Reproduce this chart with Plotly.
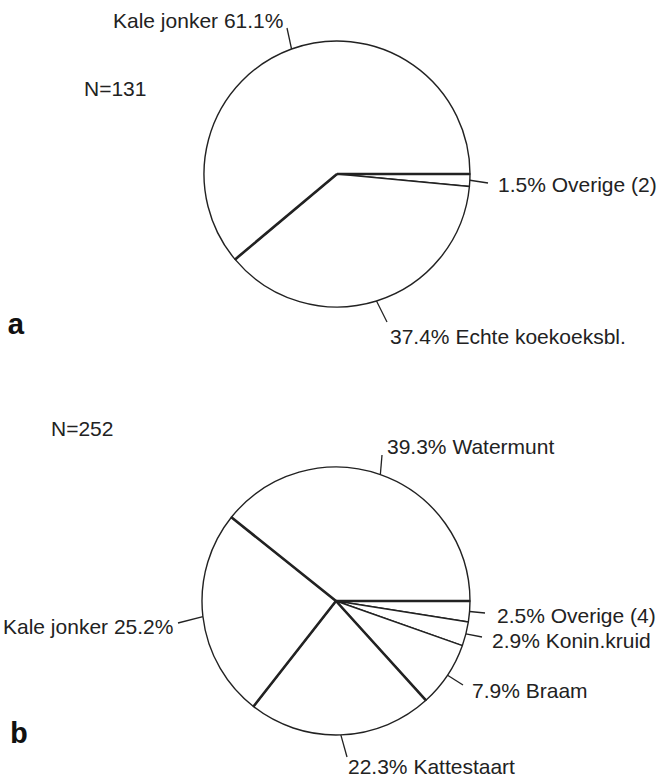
import math
import plotly.graph_objects as go

W, H = 659, 778

# ---------------- data ----------------
cats_a = ["Overige (2)", "Echte koekoeksbl.", "Kale jonker"]
vals_a = [1.5, 37.4, 61.1]
n_a = 131

cats_b = ["Overige (4)", "Konin.kruid", "Braam", "Kattestaart", "Kale jonker", "Watermunt"]
vals_b = [2.5, 2.9, 7.9, 22.3, 25.2, 39.3]
n_b = 252

panel_letters = ["a", "b"]

# ---------------- layout (pixels) ----------------
PIE_A = dict(cx=337, cy=174, r=133)
PIE_B = dict(cx=336, cy=601, r=134)

# leader end point, text anchor, horizontal anchor, name before value?
LAB_A = {
    "Overige (2)": dict(end=(488, 183), txt=(496, 184), xa="left", name_first=False),
    "Echte koekoeksbl.": dict(end=(387, 322), txt=(388, 336), xa="left", name_first=False),
    "Kale jonker": dict(end=(287, 28), txt=(285, 20), xa="right", name_first=True),
}
LAB_B = {
    "Overige (4)": dict(end=(485, 613), txt=(495, 615), xa="left", name_first=False),
    "Konin.kruid": dict(end=(482, 637), txt=(490, 640), xa="left", name_first=False),
    "Braam": dict(end=(463, 685), txt=(470, 690), xa="left", name_first=False),
    "Kattestaart": dict(end=(347, 757), txt=(346, 766), xa="left", name_first=False),
    "Kale jonker": dict(end=(178, 623), txt=(175, 626), xa="right", name_first=True),
    "Watermunt": dict(end=(382, 455), txt=(385, 446), xa="left", name_first=False),
}
EMPH_A = [0, 2]        # boundaries drawn heavier
EMPH_B = [0, 3, 4, 5]

N_POS = {"a": (82, 89), "b": (49, 429)}
LETTER_POS = {"a": (5, 326), "b": (8, 735)}

INK = "#222222"
FONT = "Liberation Sans"
FSIZE = 21


def px(x):
    return x / W


def py(y):
    return 1 - y / H


fig = go.Figure()
shapes = []
annotations = []


def add_pie(cats, vals, geo, labs, emph):
    cx, cy, r = geo["cx"], geo["cy"], geo["r"]
    fig.add_trace(go.Pie(
        labels=cats, values=vals, sort=False, direction="clockwise", rotation=90,
        textinfo="none", hoverinfo="label+value", showlegend=False,
        marker=dict(colors=["white"] * len(vals), line=dict(color=INK, width=1.4)),
        domain=dict(x=[px(cx - r), px(cx + r)], y=[py(cy + r), py(cy - r)]),
    ))
    total = sum(vals)
    cum = 0.0
    bounds = [0.0]
    for c, v in zip(cats, vals):
        mid = -(cum + v / 2) / total * 2 * math.pi
        ex, ey = cx + r * math.cos(mid), cy - r * math.sin(mid)
        lab = labs[c]
        lx, ly = lab["end"]
        shapes.append(dict(type="line", xref="paper", yref="paper",
                           x0=px(ex), y0=py(ey), x1=px(lx), y1=py(ly),
                           line=dict(color=INK, width=1.3)))
        txt = f"{c} {v}%" if lab["name_first"] else f"{v}% {c}"
        tx, ty = lab["txt"]
        annotations.append(dict(text=txt, xref="paper", yref="paper",
                                x=px(tx), y=py(ty), xanchor=lab["xa"], yanchor="middle",
                                showarrow=False, font=dict(family=FONT, size=FSIZE, color=INK)))
        cum += v
        bounds.append(cum)
    for k in emph:
        ang = -bounds[k] / total * 2 * math.pi
        bx, by = cx + r * math.cos(ang), cy - r * math.sin(ang)
        shapes.append(dict(type="line", xref="paper", yref="paper",
                           x0=px(cx), y0=py(cy), x1=px(bx), y1=py(by),
                           line=dict(color=INK, width=2.6)))


add_pie(cats_a, vals_a, PIE_A, LAB_A, EMPH_A)
add_pie(cats_b, vals_b, PIE_B, LAB_B, EMPH_B)

for key, n in zip(panel_letters, [n_a, n_b]):
    nx, ny = N_POS[key]
    annotations.append(dict(text=f"N={n}", xref="paper", yref="paper", x=px(nx), y=py(ny),
                            xanchor="left", yanchor="middle", showarrow=False,
                            font=dict(family=FONT, size=FSIZE, color=INK)))
    lx, ly = LETTER_POS[key]
    annotations.append(dict(text=f"<b>{key}</b>", xref="paper", yref="paper", x=px(lx), y=py(ly),
                            xanchor="left", yanchor="middle", showarrow=False,
                            font=dict(family="Liberation Mono", size=30, color="#111111")))

fig.update_layout(
    width=W, height=H,
    margin=dict(l=0, r=0, t=0, b=0),
    paper_bgcolor="white", plot_bgcolor="white",
    shapes=shapes, annotations=annotations,
)

fig.write_html("out.html", config={"displayModeBar": False},
               post_script="document.body.style.margin='0';")
